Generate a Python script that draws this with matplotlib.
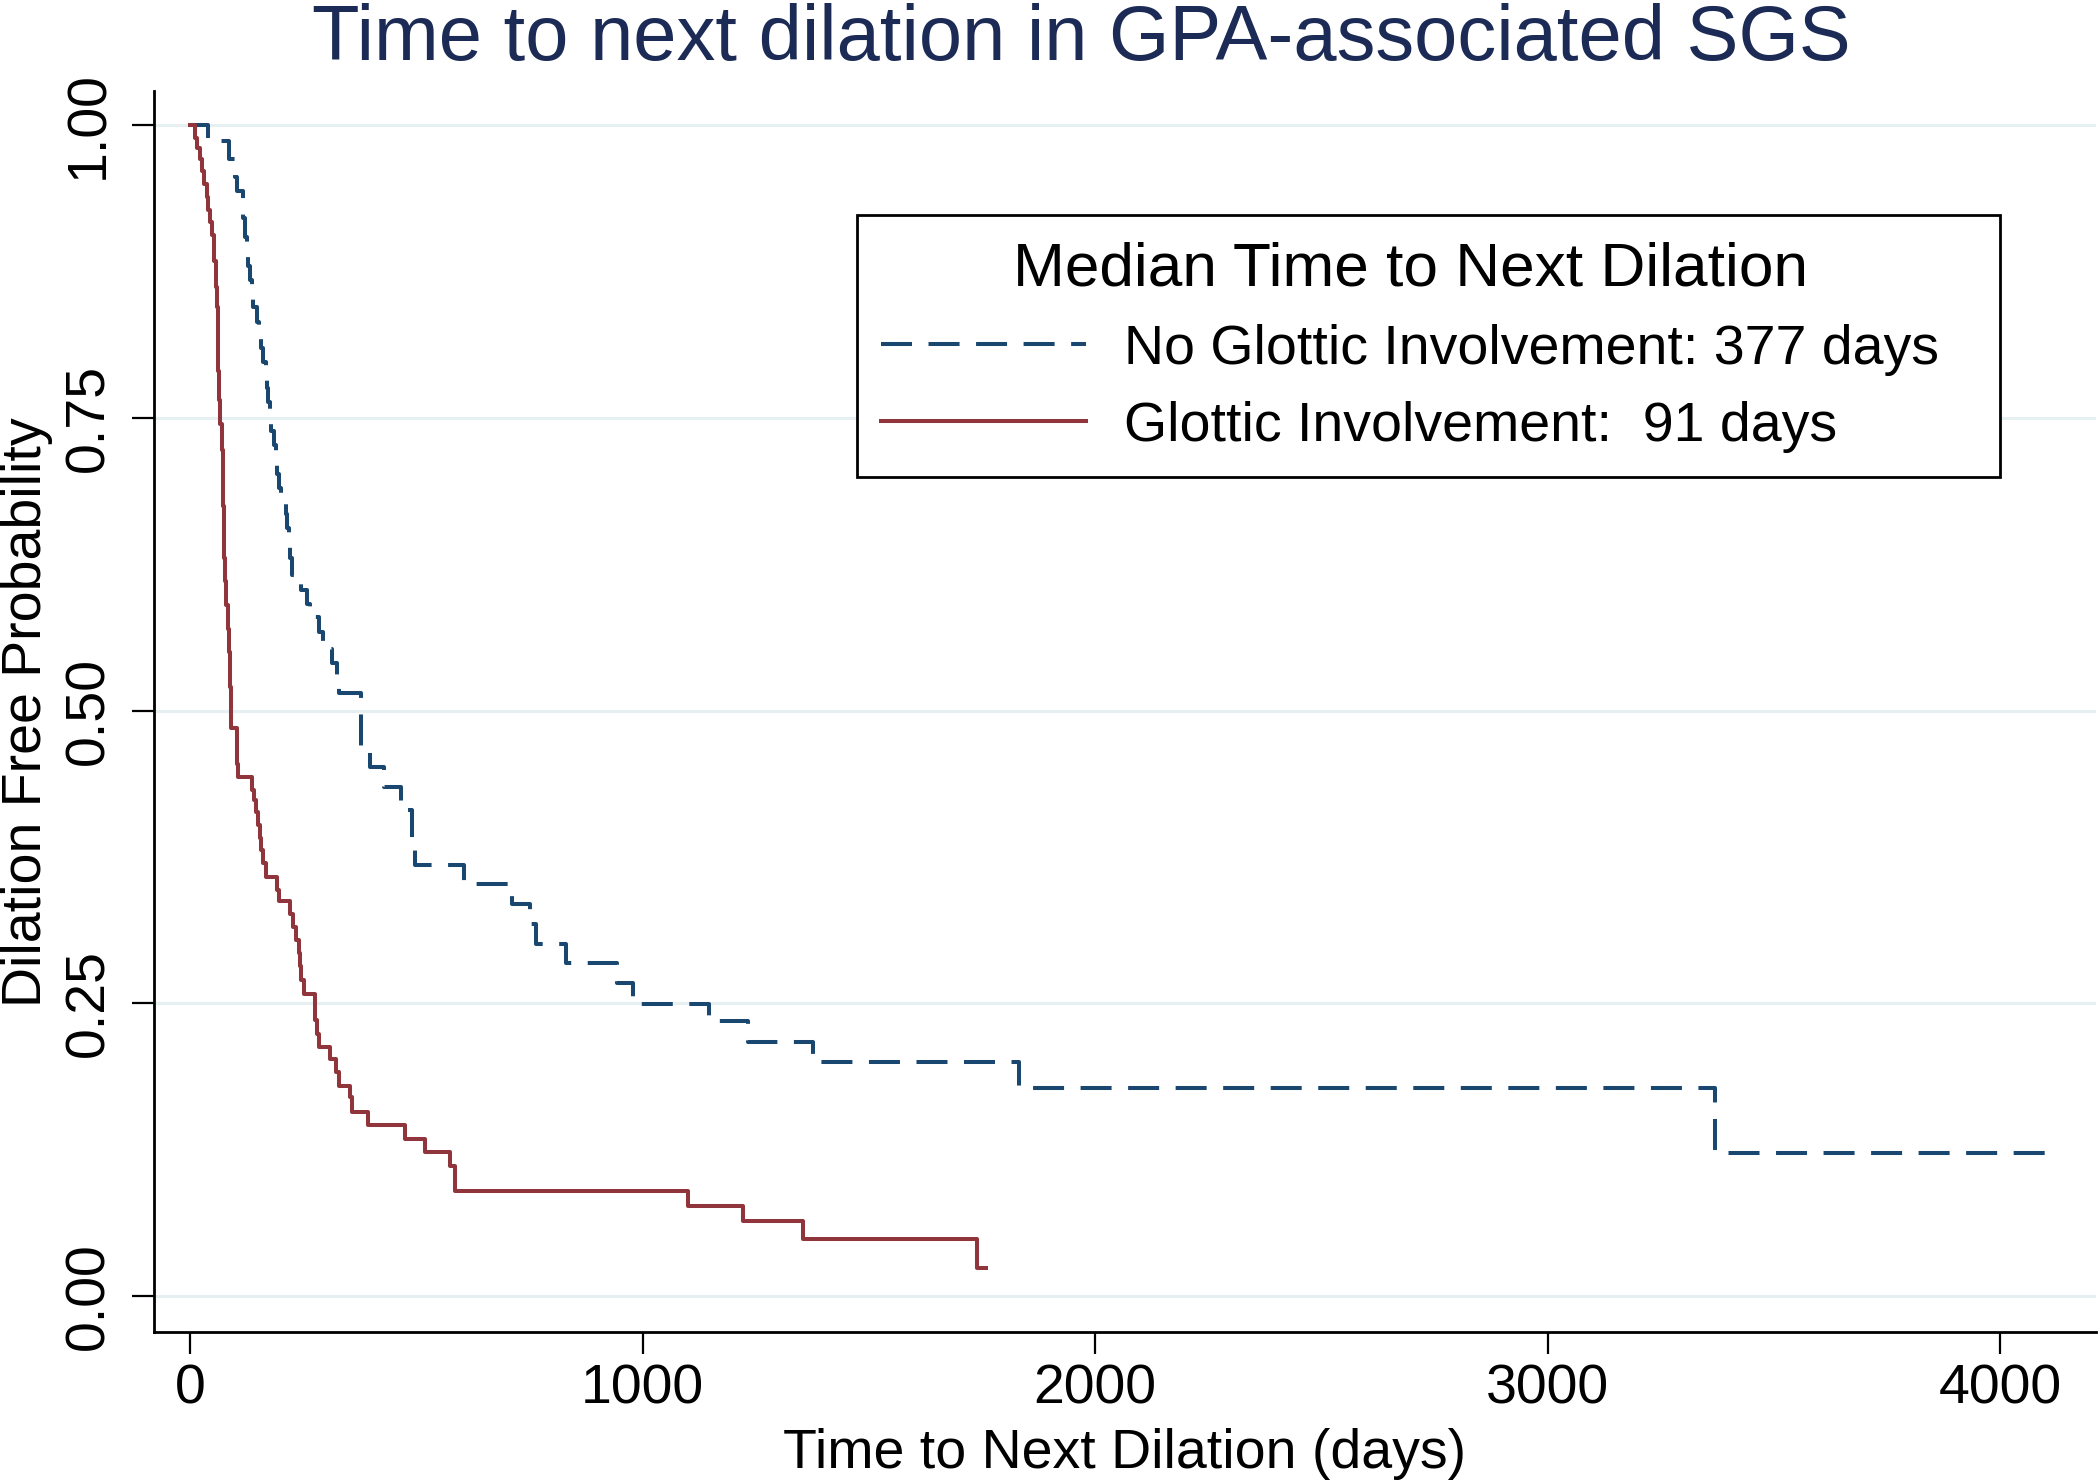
import matplotlib
matplotlib.use("Agg")
import matplotlib.pyplot as plt
from matplotlib.lines import Line2D
from matplotlib.patches import Rectangle

plt.rcParams["font.family"] = ["Liberation Sans", "DejaVu Sans"]

# Kaplan-Meier steps (time in days, survival after the step)
glottic_days = [0, 10, 15, 21, 26, 31, 37, 40, 44, 48, 52, 54, 57, 58, 60, 61, 62,
                63, 66, 70, 72, 73, 74, 75, 77, 80, 84, 87, 89, 91, 103, 106, 138,
                141, 145, 151, 154, 157, 162, 168, 192, 197, 222, 228, 235, 240,
                243, 246, 252, 277, 281, 285, 309, 322, 330, 353, 357, 393, 476,
                519, 575, 585, 1100, 1221, 1355, 1740, 1760]
glottic_surv = [1.000, 0.989, 0.981, 0.971, 0.961, 0.950, 0.939, 0.928, 0.917,
                0.906, 0.895, 0.884, 0.873, 0.862, 0.845, 0.820, 0.790, 0.765,
                0.745, 0.723, 0.700, 0.675, 0.650, 0.630, 0.611, 0.590, 0.570,
                0.550, 0.520, 0.485, 0.454, 0.443, 0.432, 0.424, 0.413, 0.402,
                0.391, 0.381, 0.370, 0.358, 0.347, 0.337, 0.326, 0.315, 0.304,
                0.293, 0.282, 0.270, 0.258, 0.236, 0.224, 0.213, 0.202, 0.191,
                0.179, 0.170, 0.157, 0.146, 0.134, 0.123, 0.111, 0.090, 0.077,
                0.064, 0.049, 0.024, 0.024]

no_glottic_days = [0, 40, 87, 100, 104, 118, 122, 125, 129, 132, 136, 140, 148,
                   152, 156, 162, 168, 171, 173, 176, 180, 186, 189, 193, 197,
                   200, 212, 215, 218, 222, 225, 245, 258, 266, 285, 293, 313,
                   325, 330, 377, 397, 428, 466, 490, 498, 606, 711, 751, 764,
                   830, 944, 978, 1146, 1232, 1376, 1833, 3370, 4110]
no_glottic_surv = [1.000, 0.987, 0.971, 0.956, 0.944, 0.921, 0.905, 0.893, 0.880,
                   0.868, 0.857, 0.845, 0.832, 0.820, 0.810, 0.798, 0.787, 0.776,
                   0.764, 0.752, 0.739, 0.727, 0.714, 0.702, 0.690, 0.680, 0.668,
                   0.656, 0.645, 0.630, 0.616, 0.603, 0.591, 0.580, 0.567, 0.553,
                   0.541, 0.528, 0.515, 0.467, 0.452, 0.435, 0.415, 0.387, 0.368,
                   0.352, 0.335, 0.318, 0.301, 0.284, 0.267, 0.249, 0.235, 0.217,
                   0.200, 0.178, 0.122, 0.122]

x_ticks = [0, 1000, 2000, 3000, 4000]
y_ticks = [0.0, 0.25, 0.5, 0.75, 1.0]
y_tick_labels = ["0.00", "0.25", "0.50", "0.75", "1.00"]

legend_title = "Median Time to Next Dilation"
label_no_glottic = "No Glottic Involvement: 377 days"
label_glottic = "Glottic Involvement:  91 days"

navy = "#1a476f"
maroon = "#90353b"
line_w = 2.9
dash = (0, (7.7, 4.1))

W, H = 2100, 1481
fig = plt.figure(figsize=(W / 100, H / 100), dpi=100)
ax_l, ax_r, ax_t, ax_b = 154, 2096, 91.5, 1332
ax = fig.add_axes([ax_l / W, 1 - ax_b / H, (ax_r - ax_l) / W, (ax_b - ax_t) / H])

ax.step(no_glottic_days, no_glottic_surv, where="post", color=navy, lw=line_w,
        linestyle=dash, zorder=3)
ax.step(glottic_days, glottic_surv, where="post", color=maroon, lw=line_w, zorder=3)

ax.set_xlim(-79.6, 4212)
ax.set_ylim(-0.0308, 1.0289)

ax.set_xticks(x_ticks)
ax.set_yticks(y_ticks, y_tick_labels, rotation=90, va="center")
ax.tick_params(axis="both", direction="out", length=16, width=1.6, labelsize=40)
ax.tick_params(axis="x", pad=7)
ax.tick_params(axis="y", pad=12)

for side in ("top", "right"):
    ax.spines[side].set_visible(False)
for side in ("left", "bottom"):
    ax.spines[side].set_linewidth(2.0)

ax.set_axisbelow(True)
ax.yaxis.grid(True, color="#e6eff2", lw=2.2)

ax.set_xlabel("Time to Next Dilation (days)", fontsize=40)
ax.xaxis.set_label_coords(0.5, -0.077)
ax.set_ylabel("Dilation Free Probability", fontsize=40)
ax.yaxis.set_label_coords(-0.0518, 0.5)

fig.text(0.515, 1 - 60 / H, "Time to next dilation in GPA-associated SGS",
         ha="center", va="baseline", fontsize=56, color="#1c2b55")

# legend box drawn at the reference position, legend contents on top
box_x0, box_x1, box_y0, box_y1 = 857, 2000, 215, 477
bx = (box_x0 - ax_l) / (ax_r - ax_l)
by = (ax_b - box_y1) / (ax_b - ax_t)
ax.add_patch(Rectangle((bx, by), (box_x1 - box_x0) / (ax_r - ax_l),
                       (box_y1 - box_y0) / (ax_b - ax_t), transform=ax.transAxes,
                       facecolor="white", edgecolor="black", lw=2.0, zorder=4))

handles = [Line2D([], [], color=navy, lw=line_w, linestyle=dash),
           Line2D([], [], color=maroon, lw=line_w)]
leg = ax.legend(handles, [label_no_glottic, label_glottic], title=legend_title,
                loc="upper left",
                bbox_to_anchor=(bx, (ax_b - box_y0 - 3) / (ax_b - ax_t)),
                frameon=False, fontsize=40, title_fontsize=44.7, handlelength=3.7,
                handletextpad=0.68, borderpad=0.43, labelspacing=0.45,
                borderaxespad=0)
leg.set_zorder(5)

fig.savefig("out.png", dpi=100, facecolor="white")
